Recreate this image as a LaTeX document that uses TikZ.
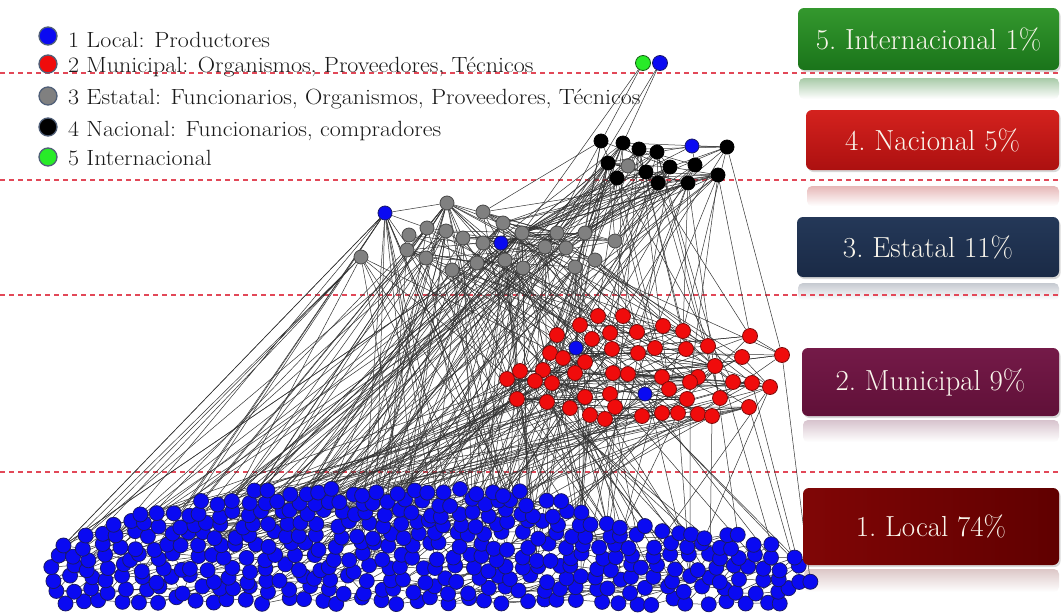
\documentclass[tikz,border=0pt]{standalone}
\usepackage{fontspec}
\usepackage{graphicx}
\usetikzlibrary{shadows}
\pgfdeclarelayer{bg}
\pgfdeclarelayer{links}
\pgfsetlayers{bg,links,main}

\definecolor{nblue}{RGB}{10,10,242}
\definecolor{nblueD}{RGB}{25,25,105}
\definecolor{nred}{RGB}{240,12,12}
\definecolor{nredD}{RGB}{125,12,12}
\definecolor{ngray}{RGB}{128,128,128}
\definecolor{ngrayD}{RGB}{72,72,72}
\definecolor{ngreen}{RGB}{40,235,40}
\definecolor{ngreenD}{RGB}{20,95,20}
\definecolor{dashc}{RGB}{226,72,88}
\definecolor{legring}{RGB}{80,95,120}
\definecolor{boxtext}{RGB}{250,246,236}
\definecolor{bxGa}{RGB}{52,152,46}
\definecolor{bxGb}{RGB}{26,116,26}
\definecolor{bxRa}{RGB}{212,34,30}
\definecolor{bxRb}{RGB}{172,16,16}
\definecolor{bxNa}{RGB}{36,56,88}
\definecolor{bxNb}{RGB}{26,42,70}
\definecolor{bxPa}{RGB}{116,26,72}
\definecolor{bxPb}{RGB}{96,16,56}
\definecolor{bxLa}{RGB}{128,6,6}
\definecolor{bxLb}{RGB}{96,0,0}

\newcommand\legwide[1]{\scalebox{1.09}[1]{#1}}

\tikzset{
  vtx/.style={circle,inner sep=0pt,line width=0.8pt},
  bluev/.style={vtx,minimum size=15pt,fill=nblue,draw=nblueD},
  redv/.style={vtx,minimum size=15pt,fill=nred,draw=nredD},
  grayv/.style={vtx,minimum size=14pt,fill=ngray,draw=ngrayD},
  blackv/.style={vtx,minimum size=14pt,fill=black,draw=black},
  greenv/.style={vtx,minimum size=15pt,fill=ngreen,draw=ngreenD},
  link/.style={draw=black!80,line width=0.5pt},
  levelline/.style={draw=dashc,line width=1.1pt,dash pattern=on 5pt off 4pt},
  legdot/.style={circle,inner sep=0pt,minimum size=18pt,line width=1.3pt,draw=legring},
  legtext/.style={anchor=base west,inner sep=0pt,text=black!90,font=\fontsize{22}{26}\selectfont},
  lvlbox/.style={rounded corners=6pt,inner sep=0pt,text=boxtext,
    font=\fontsize{29}{34}\selectfont\frenchspacing,
    drop shadow={opacity=0.3,shadow xshift=1.5pt,shadow yshift=-2pt}},
  mirror/.style={rounded corners=5pt},
}

\pgfmathdeclarerandomlist{graysrc}{{g8}{g8}{g8}{g8}{g8}{g1}{g1}{g1}{g5}{g5}{g7}{g7}{g3}{g3}{g13}{g16}{g16}{gb1}{gb1}{g12}{g17}{g19}{g20}{g23}{g4}{g9}{g11}{gb2}{g14}{g21}}
\pgfmathdeclarerandomlist{graytop}{{g8}{g8}{g8}{g8}{g8}{g8}{g3}{g3}{g9}{g9}{g10}{g13}{g15}{g2}{g14}}

\begin{document}
\begin{tikzpicture}[x=1pt,y=-1pt]
\useasboundingbox (0,0) rectangle (1061,613);

% paper, level separators and box reflections
\begin{pgfonlayer}{bg}
\fill[white] (0,0) rectangle (1061,613);
\shade[mirror,top color=bxGb!38,bottom color=white] (799,78) rectangle (1059,99);
\shade[mirror,top color=bxRb!30,bottom color=white] (807,186) rectangle (1059,206);
\shade[mirror,top color=bxNb!25,bottom color=white] (798,283) rectangle (1059,300);
\shade[mirror,top color=bxPb!25,bottom color=white] (803,420) rectangle (1059,442);
\shade[mirror,top color=bxLb!22,bottom color=white] (804,569) rectangle (1059,592);
\foreach \ly [count=\li] in {73,180,295,472}{
  \coordinate (lv\li w) at (0,\ly);
  \coordinate (lv\li e) at (1061,\ly);
  \draw[levelline] (lv\li w) -- (lv\li e);
}
\end{pgfonlayer}

% ---------- local actors: a dense band of rows ----------
\pgfmathsetseed{4242}
\foreach \rw/\yy/\xlo/\xhi/\nr in {
  0/601/64/782/40, 1/590/56/792/42, 2/579/52/812/44, 3/568/56/800/44,
  4/557/58/790/44, 5/546/64/770/42, 6/535/84/742/40, 7/524/112/640/34,
  8/513/142/582/30, 9/502/205/560/24, 10/492/255/522/18}{
  \expandafter\xdef\csname nrow\rw\endcsname{\nr}
  \expandafter\xdef\csname xlo\rw\endcsname{\xlo}
  \expandafter\xdef\csname xhi\rw\endcsname{\xhi}
  \foreach \k in {1,...,\nr}{
    \pgfmathsetmacro\px{\xlo+(\k-1)/(\nr-1)*(\xhi-\xlo)+5*rand}
    \pgfmathsetmacro\py{\yy+4*rand}
    \node[bluev] (b-\rw-\k) at (\px,\py) {};
  }
}

% ---------- municipal actors ----------
\foreach \x/\y [count=\i] in {
  598/316, 623/316, 580/325, 663/326, 683/331, 610/333, 637/332, 592/339,
  750/336, 708/346, 655/348, 612/349, 686/349, 550/353, 638/353, 563/358,
  742/357, 782/355, 585/362, 715/366, 520/371, 543/370, 613/373, 628/374,
  575/373, 662/377, 698/377, 690/382, 733/382, 752/383, 770/387, 507/379,
  535/381, 552/383, 669/389, 517/399, 547/402, 585/397, 610/394, 687/399,
  720/398, 570/408, 615/407, 749/407, 590/415, 605/419, 642/416, 662/413,
  678/413, 698/414, 712/416, 557/335}{
  \node[redv] (r\i) at (\x,\y) {};
}
\node[bluev,minimum size=14pt] (rb1) at (576,348) {};
\node[bluev,minimum size=14pt] (rb2) at (645,394) {};

% ---------- state actors ----------
\foreach \x/\y [count=\i] in {
  447/203, 483/212, 503/223, 427/228, 446/231, 409/235, 463/238, 522/233,
  557/233, 585/233, 483/243, 407/250, 545/247, 566/248, 615/241, 361/257,
  426/258, 477/263, 505/260, 523/268, 575/267, 595/260, 452/270}{
  \node[grayv] (g\i) at (\x,\y) {};
}
\node[bluev,minimum size=14pt] (gb1) at (385,213) {};
\node[bluev,minimum size=14pt] (gb2) at (501,243) {};

% ---------- national actors ----------
\foreach \x/\y [count=\i] in {
  601/141, 623/143, 639/149, 657/152, 727/147, 608/163, 646/172, 670/167,
  695/165, 718/175, 617/178, 658/183, 688/183}{
  \node[blackv] (k\i) at (\x,\y) {};
}
\node[grayv] (kg) at (628,166) {};
\node[bluev,minimum size=14pt] (kb) at (692,146) {};

% ---------- international actors ----------
\node[greenv] (t1) at (643,63) {};
\node[bluev] (t2) at (660,63) {};

% ---------- ties ----------
\begin{pgfonlayer}{links}
% neighbours inside each row
\foreach \rw in {0,...,10}{
  \edef\nr{\csname nrow\rw\endcsname}
  \pgfmathtruncatemacro\nm{\nr-1}
  \foreach \k in {1,...,\nm}{
    \pgfmathtruncatemacro\kn{\k+1}
    \draw[link] (b-\rw-\k) -- (b-\rw-\kn);
  }
}
% ties to the row above
\foreach \rw in {0,...,9}{
  \pgfmathtruncatemacro\ru{\rw+1}
  \edef\nL{\csname nrow\rw\endcsname}
  \edef\nU{\csname nrow\ru\endcsname}
  \edef\loL{\csname xlo\rw\endcsname}\edef\hiL{\csname xhi\rw\endcsname}
  \edef\loU{\csname xlo\ru\endcsname}\edef\hiU{\csname xhi\ru\endcsname}
  \foreach \k in {1,...,\nL}{
    \pgfmathsetmacro\xk{\loL+(\k-1)/(\nL-1)*(\hiL-\loL)}
    \pgfmathtruncatemacro\mu{round((\xk-\loU)/(\hiU-\loU)*(\nU-1))+1}
    \pgfmathtruncatemacro\mv{\mu+1}
    \ifnum\mu>0 \ifnum\mu<\numexpr\nU+1\relax
      \draw[link] (b-\rw-\k) -- (b-\ru-\mu);
    \fi\fi
    \ifnum\mv>0 \ifnum\mv<\numexpr\nU+1\relax
      \draw[link] (b-\rw-\k) -- (b-\ru-\mv);
    \fi\fi
  }
}
% longer ties inside the band
\foreach \i in {1,...,90}{
  \pgfmathrandominteger{\rw}{0}{8}
  \edef\nr{\csname nrow\rw\endcsname}
  \pgfmathtruncatemacro\hiK{\nr-8}
  \pgfmathrandominteger{\ka}{1}{\hiK}
  \pgfmathrandominteger{\dk}{2}{8}
  \pgfmathrandominteger{\dr}{0}{2}
  \pgfmathtruncatemacro\ru{\rw+\dr}
  \edef\nU{\csname nrow\ru\endcsname}
  \pgfmathtruncatemacro\kb{min(\ka+\dk,\nU)}
  \draw[link] (b-\rw-\ka) -- (b-\ru-\kb);
}
% state -> local
\foreach \i in {1,...,120}{
  \pgfmathrandomitem{\srcn}{graysrc}
  \pgfmathrandominteger{\rw}{3}{10}
  \edef\nr{\csname nrow\rw\endcsname}
  \pgfmathrandominteger{\ka}{1}{\nr}
  \draw[link] (\srcn) -- (b-\rw-\ka);
}
% municipal -> local
\foreach \i in {1,...,95}{
  \pgfmathrandominteger{\ra}{1}{52}
  \pgfmathrandominteger{\rw}{2}{10}
  \edef\nr{\csname nrow\rw\endcsname}
  \pgfmathrandominteger{\ka}{1}{\nr}
  \draw[link] (r\ra) -- (b-\rw-\ka);
}
% national -> local
\foreach \i in {1,...,35}{
  \pgfmathrandominteger{\ra}{1}{13}
  \pgfmathrandominteger{\rw}{4}{10}
  \edef\nr{\csname nrow\rw\endcsname}
  \pgfmathrandominteger{\ka}{1}{\nr}
  \draw[link] (k\ra) -- (b-\rw-\ka);
}
% national -> state
\foreach \i in {1,...,34}{
  \pgfmathrandominteger{\ra}{1}{13}
  \pgfmathrandomitem{\srcn}{graytop}
  \draw[link] (k\ra) -- (\srcn);
}
% national -> municipal
\foreach \i in {1,...,22}{
  \pgfmathrandominteger{\ra}{1}{13}
  \pgfmathrandominteger{\rb}{1}{52}
  \draw[link] (k\ra) -- (r\rb);
}
% state -> municipal
\foreach \i in {1,...,45}{
  \pgfmathrandominteger{\ra}{1}{23}
  \pgfmathrandominteger{\rb}{1}{52}
  \draw[link] (g\ra) -- (r\rb);
}
% inside the municipal group
\foreach \i in {1,...,80}{
  \pgfmathrandominteger{\ra}{1}{46}
  \pgfmathrandominteger{\dk}{1}{7}
  \pgfmathtruncatemacro\rb{\ra+\dk}
  \draw[link] (r\ra) -- (r\rb);
}
% inside the state group
\foreach \i in {1,...,40}{
  \pgfmathrandominteger{\ra}{1}{23}
  \pgfmathrandominteger{\rb}{1}{23}
  \ifnum\ra=\rb\else\draw[link] (g\ra) -- (g\rb);\fi
}
% inside the national group
\foreach \i in {1,...,24}{
  \pgfmathrandominteger{\ra}{1}{13}
  \pgfmathrandominteger{\rb}{1}{13}
  \ifnum\ra=\rb\else\draw[link] (k\ra) -- (k\rb);\fi
}
% fixed ties
\draw[link] (rb1) -- (g8) (rb1) -- (r8) (rb1) -- (r14) (rb2) -- (r23) (rb2) -- (r35)
  (rb2) -- (b-6-25) (rb1) -- (b-8-12) (gb1) -- (g1) (gb1) -- (g4) (gb1) -- (b-6-3)
  (gb1) -- (b-5-1) (gb2) -- (g8) (gb2) -- (g11) (kg) -- (k6) (kg) -- (k3) (kg) -- (g8)
  (kb) -- (k5) (kb) -- (k9) (kb) -- (k4) (kb) -- (g8) (k13) -- (r5) (k10) -- (r9)
  (k5) -- (r18) (k5) -- (g15) (t1) -- (g8) (t1) -- (g13) (t2) -- (k2) (t2) -- (g9)
  (g16) -- (b-5-2) (g16) -- (b-6-1) (g16) -- (b-4-1) (r18) -- (b-2-44) (r30) -- (b-3-44)
  (r9) -- (r18) (r17) -- (r31) (r44) -- (b-2-43);
\end{pgfonlayer}

% ---------- legend ----------
\node[legdot,fill=nblue]  (key1) at (48,36) {};
\node[legdot,fill=nred]   (key2) at (48,64) {};
\node[legdot,fill=ngray]  (key3) at (48,96) {};
\node[legdot,fill=black]  (key4) at (48,127) {};
\node[legdot,fill=ngreen] (key5) at (48,157) {};
\node[legtext] (lab1) at (68,47)  {\legwide{1 Local: Productores}};
\node[legtext] (lab2) at (68,72)  {\legwide{2 Municipal: Organismos, Proveedores, Técnicos}};
\node[legtext] (lab3) at (68,104) {\legwide{3 Estatal: Funcionarios, Organismos, Proveedores, Técnicos}};
\node[legtext] (lab4) at (68,136) {\legwide{4 Nacional: Funcionarios, compradores}};
\node[legtext] (lab5) at (68,165) {\legwide{5 Internacional}};

% ---------- level boxes ----------
\node[lvlbox,minimum width=261pt,minimum height=62pt,top color=bxGa,bottom color=bxGb]
  (lvl5) at (928.5,39) {5. Internacional 1\%};
\node[lvlbox,minimum width=253pt,minimum height=60pt,top color=bxRa,bottom color=bxRb]
  (lvl4) at (932.5,140) {4. Nacional 5\%};
\node[lvlbox,minimum width=262pt,minimum height=60pt,top color=bxNa,bottom color=bxNb]
  (lvl3) at (928,247) {3. Estatal 11\%};
\node[lvlbox,minimum width=257pt,minimum height=68pt,top color=bxPa,bottom color=bxPb]
  (lvl2) at (930.5,382) {2. Municipal 9\%};
\node[lvlbox,minimum width=256pt,minimum height=77pt,left color=bxLa,right color=bxLb]
  (lvl1) at (931,526.5) {1. Local 74\%};
\end{tikzpicture}
\end{document}
